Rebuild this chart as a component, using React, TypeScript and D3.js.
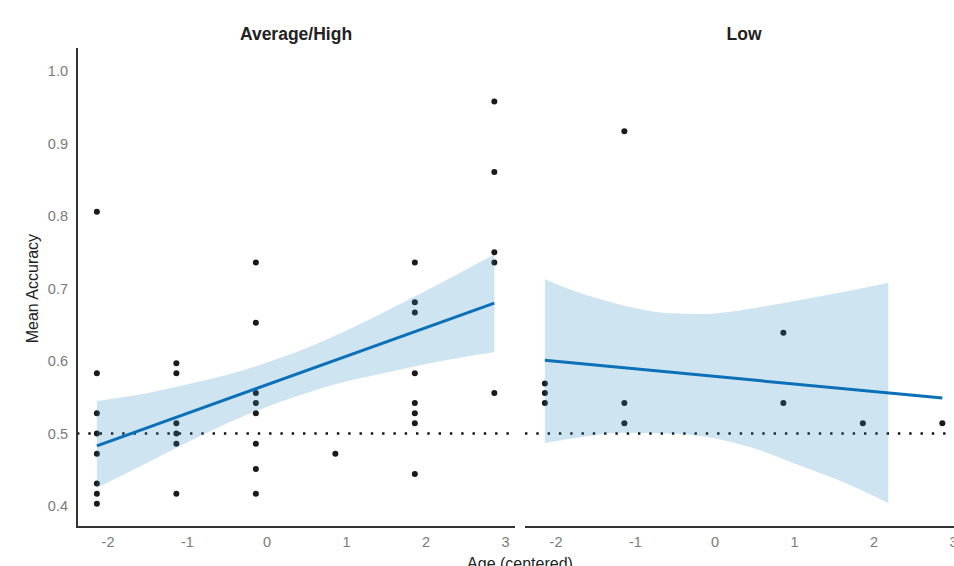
import React from "react";
import * as d3 from "d3";

// tick labels
const ageTicks = [-2, -1, 0, 1, 2, 3];
const accTicks = [0.4, 0.5, 0.6, 0.7, 0.8, 0.9, 1.0];

// Average/High group, raw points
const avgHighAge = [
  -2.14, -2.14, -2.14, -2.14, -2.14, -2.14, -2.14, -2.14,
  -1.14, -1.14, -1.14, -1.14, -1.14, -1.14,
  -0.14, -0.14, -0.14, -0.14, -0.14, -0.14, -0.14, -0.14,
  0.86,
  1.86, 1.86, 1.86, 1.86, 1.86, 1.86, 1.86, 1.86,
  2.86, 2.86, 2.86, 2.86, 2.86,
];
const avgHighAcc = [
  0.806, 0.583, 0.528, 0.5, 0.472, 0.431, 0.417, 0.403,
  0.597, 0.583, 0.514, 0.5, 0.486, 0.417,
  0.736, 0.653, 0.556, 0.542, 0.528, 0.486, 0.451, 0.417,
  0.472,
  0.736, 0.681, 0.667, 0.583, 0.542, 0.528, 0.514, 0.444,
  0.958, 0.861, 0.75, 0.736, 0.556,
];

// Low group, raw points
const lowAge = [-2.14, -2.14, -2.14, -1.14, -1.14, -1.14, 0.86, 0.86, 1.86, 2.86];
const lowAcc = [0.569, 0.556, 0.542, 0.917, 0.542, 0.514, 0.639, 0.542, 0.514, 0.514];

// fitted lines
const avgHighFitAge = [-2.14, 2.86];
const avgHighFitAcc = [0.483, 0.68];
const lowFitAge = [-2.14, 2.86];
const lowFitAcc = [0.601, 0.549];

// confidence bands
const avgHighBandAge = [-2.14, -1.5, -1, -0.5, 0, 0.5, 1, 1.5, 2, 2.5, 2.86];
const avgHighBandLo = [0.425, 0.46, 0.488, 0.514, 0.537, 0.556, 0.572, 0.584, 0.596, 0.606, 0.612];
const avgHighBandHi = [0.545, 0.556, 0.568, 0.581, 0.598, 0.618, 0.642, 0.669, 0.697, 0.726, 0.747];

const lowBandAge = [-2.14, -1.62, -1.2, -0.57, -0.15, 0.48, 1.11, 1.74, 2.18];
const lowBandLo = [0.487, 0.496, 0.501, 0.5, 0.496, 0.48, 0.454, 0.427, 0.404];
const lowBandHi = [0.713, 0.691, 0.678, 0.666, 0.665, 0.673, 0.685, 0.698, 0.708];

const chance = 0.5;

const font = "'Liberation Sans', Arial, sans-serif";

const y = d3.scaleLinear().domain([0.371, 1.032]).range([527, 48]);

const Panel = ({ title, left, showY, age, acc, fitAge, fitAcc, bandAge, bandLo, bandHi }) => {
  const x = d3.scaleLinear().domain([-2.39, 3.12]).range([left, left + 438]);

  const area = d3
    .area()
    .curve(d3.curveMonotoneX)
    .x((d) => x(d[0]))
    .y0((d) => y(d[1]))
    .y1((d) => y(d[2]));
  const bandPath = area(bandAge.map((a, i) => [a, bandLo[i], bandHi[i]]));

  const line = d3
    .line()
    .x((d) => x(d[0]))
    .y((d) => y(d[1]));
  const fitPath = line(fitAge.map((a, i) => [a, fitAcc[i]]));

  return (
    <g>
      <text
        x={(x.range()[0] + x.range()[1]) / 2}
        y={40}
        textAnchor="middle"
        fontSize={17.5}
        fontWeight="bold"
        fill="#222"
      >
        {title}
      </text>

      {/* chance line */}
      <line
        x1={x.range()[0]}
        x2={x.range()[1]}
        y1={y(chance)}
        y2={y(chance)}
        stroke="#111"
        strokeWidth={2.4}
        strokeDasharray="2.4 8.9"
      />

      {age.map((a, i) => (
        <circle key={i} cx={x(a)} cy={y(acc[i])} r={3} fill="#1a1a1a" />
      ))}

      <path d={bandPath} fill="#2b8cc4" fillOpacity={0.23} />
      <path d={fitPath} fill="none" stroke="#0b70b8" strokeWidth={3} />

      {/* x axis */}
      <line x1={x.range()[0]} x2={x.range()[1]} y1={527} y2={527} stroke="#333" strokeWidth={2} />
      {ageTicks.map((t) => (
        <text key={t} x={x(t)} y={547} textAnchor="middle" fontSize={14.5} fill="#7a7a7a">
          {t}
        </text>
      ))}

      {showY && (
        <g>
          <line x1={x.range()[0]} x2={x.range()[0]} y1={48} y2={528} stroke="#333" strokeWidth={2} />
          {accTicks.map((t) => (
            <text
              key={t}
              x={68}
              y={y(t)}
              dy="0.36em"
              textAnchor="end"
              fontSize={14.5}
              fill="#7a7a7a"
            >
              {t.toFixed(1)}
            </text>
          ))}
        </g>
      )}
    </g>
  );
};

export default function App() {
  return (
    <svg
      width={954}
      height={566}
      style={{ position: "absolute", left: 0, top: 0, background: "#fff" }}
      fontFamily={font}
    >
      <Panel
        title="Average/High"
        left={77}
        showY={true}
        age={avgHighAge}
        acc={avgHighAcc}
        fitAge={avgHighFitAge}
        fitAcc={avgHighFitAcc}
        bandAge={avgHighBandAge}
        bandLo={avgHighBandLo}
        bandHi={avgHighBandHi}
      />
      <Panel
        title="Low"
        left={525}
        showY={false}
        age={lowAge}
        acc={lowAcc}
        fitAge={lowFitAge}
        fitAcc={lowFitAcc}
        bandAge={lowBandAge}
        bandLo={lowBandLo}
        bandHi={lowBandHi}
      />
      <text
        transform={`translate(38, ${y(0.7)}) rotate(-90)`}
        textAnchor="middle"
        fontSize={16}
        fill="#222"
      >
        Mean Accuracy
      </text>
      <text x={520} y={569} textAnchor="middle" fontSize={16} fill="#222">
        Age (centered)
      </text>
    </svg>
  );
}
